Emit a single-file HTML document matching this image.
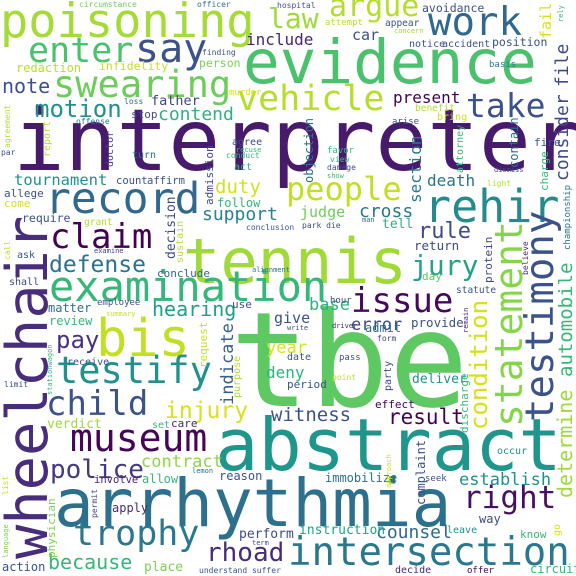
<!DOCTYPE html>
<html><head><meta charset="utf-8">
<style>
html,body{margin:0;padding:0;background:#fff;}
svg{display:block;}
text{font-family:"DejaVu Sans Mono","Liberation Mono",monospace;}
</style></head>
<body>
<svg id="cloud" width="576" height="576" viewBox="0 0 576 576" xmlns="http://www.w3.org/2000/svg">
<rect width="576" height="576" fill="#ffffff"/>
</svg>
<script>
const words = [
"interpreter","tbe","abstract","arrhythmia","wheelchair","evidence","poisoning","tennis","bis","rehir",
"record","examination","testimony","statement","work","intersection","testify","vehicle","museum","say",
"swearing","enter","take","claim","child","trophy","issue","people","right","jury",
"argue","law","condition","police","rhoad","defense","injury","motion","automobile","determine",
"result","hearing","because","rule","counsel","consider","file","cross","pay","contend",
"witness","duty","support","note","indicate","death","section","establish","present","base",
"error","judge","contract","car","fail","tournament","include","year","deny","give",
"perform","instruction","deliver","verdict","place","return","objection","tell","action","decision",
"position","avoidance","admission","allege","come","follow","require","conclude","provide","review",
"matter","apply","allow","reason","immobilize","complaint","charge","physician","contain","father",
"redaction","infidelity","person","day","admit","care","use","way","know","protein",
"fire","circuit","set","stop","turn","act","count","affirm","grant","ask",
"shall","report","doctor","receive","involve","request","purpose","period","effect","sustain",
"leave","decide","offer","seek","occur","attorney","benefit","bring","arise","favor",
"view","damage","show","dismiss","light","championship","party","pass","hour","form",
"point","date","driver","write","statute","remain","discharge","notice","accident","appear",
"attempt","concern","basis","murder","loss","offense","agreement","par","agree","recuse",
"conduct","circumstance","officer","hospital","finding","examine","call","conclusion","alignment","employee",
"summary","limit","stationwagon","lemon","list","language","permit","term","understand suffer","go",
"rely","believe","approach","park die","man"];
const weights = [
86,132,72,66,57,61,47,62,52,45,
43,42,39,38,39,39,37,35,38,40,
37,35,33,34,34,35,34,32,31,28,
30,28,24,26,26,23,23,24,19,20,
21,20,20,22,18,18,18,18,24,18,
19,19,18,20,17,16,16,17,16,17,
17,15,17,15,15,15.5,16,17,16,15,
13,13,13,13,13,12.5,12,13,12,13,
11.5,11.5,11,11,11,12,11.5,11,12.5,12,
12,12,12,12,12,12,11,11,12,13.5,
12,11.5,11.5,11,12,11,11,12,11,11,
11,12,10,11,10,10,10.5,10.5,9.5,10,
10,10,10,10,10.5,11,10,11,11,10,
10,10,9,9,10,10,9.5,10,9,9,
8,8,7,7,8,9,10,9,9,8,
8,10,7,7,9.5,7,11,10,10,9.5,
9,7,9,9,8,8,8,8,10,7,
8,8,8,8,8,7,8,8,7,9,
7,8,7,7,8,7,8,7,8,10,
7,8,7,8,7];
const colors = [
"#481a6c","#5ec962","#1f968b","#2d708e","#472d7b","#4ac16d","#a5db36","#a0da39","#c2df23","#238a8d",
"#31688e","#35b779","#3b528b","#86d549","#31688e","#2a788e","#21918c","#b5de2b","#450559","#3b528b",
"#6ccd5a","#4ac16d","#3b528b","#440154","#3b528b","#2a788e","#46085c","#c2df23","#471063","#20a386",
"#b5de2b","#a0da39","#d5e21a","#443983","#472d7b","#2c728e","#d8e219","#21918c","#35b779","#a0da39",
"#440154","#1f9e89","#35b779","#3e4a89","#31688e","#3e4a89","#3e4a89","#2a788e","#46327e","#2db27d",
"#3b528b","#d2e21b","#25848e","#3b528b","#355f8d","#2c728e","#2a788e","#21918c","#440154","#2db27d",
"#3e4a89","#6ece58","#8fd744","#3b528b","#d5e21a","#21918c","#482575","#d8e219","#2db27d","#3b528b",
"#3e4a89","#1fa187","#21918c","#a0da39","#7ad151","#3e4a89","#2c728e","#2db27d","#3b528b","#3e4a89",
"#3b528b","#3b528b","#3e4a89","#3b528b","#d2e21b","#35b779","#3b528b","#31688e","#3b528b","#35b779",
"#2c728e","#472d7b","#35b779","#3b528b","#2c728e","#3b528b","#35b779","#7ad151","#2c728e","#414487",
"#b8de29","#c8e020","#7ad151","#5ec962","#2c728e","#482575","#3b528b","#3e4a89","#35b779","#3e4a89",
"#3b528b","#35b779","#35b779","#3e4a89","#2c728e","#35b779","#3b528b","#3b528b","#b5de2b","#3b528b",
"#3e4a89","#b5de2b","#3e4a89","#3b528b","#482575","#c8e020","#b5de2b","#3b528b","#440154","#b5de2b",
"#21918c","#482575","#440154","#3b528b","#21918c","#35b779","#b5de2b","#d2e21b","#3b528b","#35b779",
"#35b779","#3b528b","#35b779","#3e4a89","#b5de2b","#2c728e","#3e4a89","#3b528b","#414487","#3e4a89",
"#c2df23","#3b528b","#482575","#3b528b","#3b528b","#482575","#35b779","#3b528b","#3b528b","#3b528b",
"#b5de2b","#a0da39","#2a788e","#d2e21b","#31688e","#2a788e","#b5de2b","#3b528b","#3e4a89","#35b779",
"#35b779","#6ece58","#2c728e","#3b528b","#3b528b","#414487","#c8e020","#3b528b","#2c728e","#3b528b",
"#c8e020","#3e4a89","#35b779","#2c728e","#c8e020","#7ad151","#3e4a89","#3b528b","#3b528b","#d2e21b",
"#35b779","#482575","#d2e21b","#3e4a89","#2c728e"];
// layout: [x, y, rotated]
const layout = [
[13,170,0],[230,406,0],[215,470,0],[54,526,0],[47,559,1],[243,83,0],[0,37,0],[183,283,0],[96,356,0],[424,222,0],
[45,213,0],[49,301,0],[553,422,1],[522,427,1],[428,35,0],[288,565,0],[56,383,0],[237,110,0],[70,451,0],[135,62,0],
[53,97,0],[28,62,0],[466,117,0],[50,248,0],[46,415,0],[73,545,0],[351,312,0],[286,200,0],[463,508,0],[411,275,0],
[329,16,0],[268,28,0],[487,430,1],[50,478,0],[206,561,0],[49,272,0],[165,418,0],[35,117,0],[572,377,1],[572,498,1],
[388,424,0],[152,316,0],[48,569,0],[418,238,0],[376,538,0],[568,181,1],[568,87,1],[359,217,0],[56,348,0],[158,120,0],
[271,421,0],[215,193,0],[202,220,0],[2,93,0],[233,405,1],[427,186,0],[421,203,1],[459,485,0],[393,103,0],[309,310,0],
[351,330,0],[300,217,0],[141,467,0],[352,40,0],[551,39,1],[14,185,0],[246,45,0],[266,353,0],[266,378,0],[274,323,0],
[239,538,0],[299,534,0],[412,383,0],[47,428,0],[144,571,0],[414,250,0],[313,183,1],[382,228,0],[2,571,0],[175,259,1],
[492,46,0],[422,12,0],[213,205,1],[4,197,0],[4,207,0],[217,207,0],[22,222,0],[157,277,0],[411,327,0],[49,325,0],
[48,312,0],[112,512,0],[142,483,0],[219,480,0],[325,482,0],[425,505,1],[548,191,1],[55,558,1],[518,168,1],[151,105,0],
[16,72,0],[99,70,0],[199,67,0],[422,280,0],[365,332,0],[171,427,0],[232,308,0],[479,523,0],[520,538,0],[492,283,1],
[534,146,0],[530,573,0],[152,428,0],[131,118,0],[132,158,0],[234,170,0],[116,184,0],[147,184,0],[84,225,0],[17,258,0],
[9,285,0],[50,157,1],[113,167,1],[67,365,0],[94,483,0],[207,368,1],[240,398,1],[287,388,0],[375,408,0],[183,263,1],
[447,533,0],[395,573,0],[467,573,0],[425,481,0],[497,454,0],[463,173,1],[415,111,0],[437,120,0],[392,124,0],[327,153,0],
[330,162,0],[327,170,0],[327,178,0],[494,172,0],[487,186,0],[570,250,1],[391,391,1],[339,360,0],[330,303,0],[377,341,0],
[332,380,0],[287,360,0],[332,328,0],[287,330,0],[456,293,0],[468,333,1],[468,433,1],[409,47,0],[442,47,0],[385,26,0],
[325,25,0],[394,33,0],[489,67,0],[229,95,0],[124,104,0],[76,124,0],[10,148,1],[1,155,0],[232,145,0],[236,152,0],
[226,158,0],[79,7,0],[197,7,0],[277,8,0],[202,55,0],[94,253,0],[10,260,1],[246,230,0],[252,272,0],[97,305,0],
[106,316,0],[4,387,0],[52,395,1],[192,473,0],[8,495,1],[8,558,1],[97,518,1],[252,545,0],[199,573,0],[560,536,1],
[563,22,1],[528,275,1],[391,488,1],[302,228,0],[362,222,0]];

const svg = document.getElementById('cloud');
const NS = 'http://www.w3.org/2000/svg';
const n = Math.min(words.length, weights.length, colors.length, layout.length);
for (let i = 0; i < n; i++) {
  const t = document.createElementNS(NS, 'text');
  const p = layout[i];
  t.textContent = words[i];
  t.setAttribute('font-size', weights[i]);
  t.setAttribute('fill', colors[i]);
  if (p[2]) {
    t.setAttribute('transform', 'translate(' + p[0] + ',' + p[1] + ') rotate(-90)');
  } else {
    t.setAttribute('x', p[0]);
    t.setAttribute('y', p[1]);
  }
  
  
  svg.appendChild(t);
}
</script>
</body></html>
